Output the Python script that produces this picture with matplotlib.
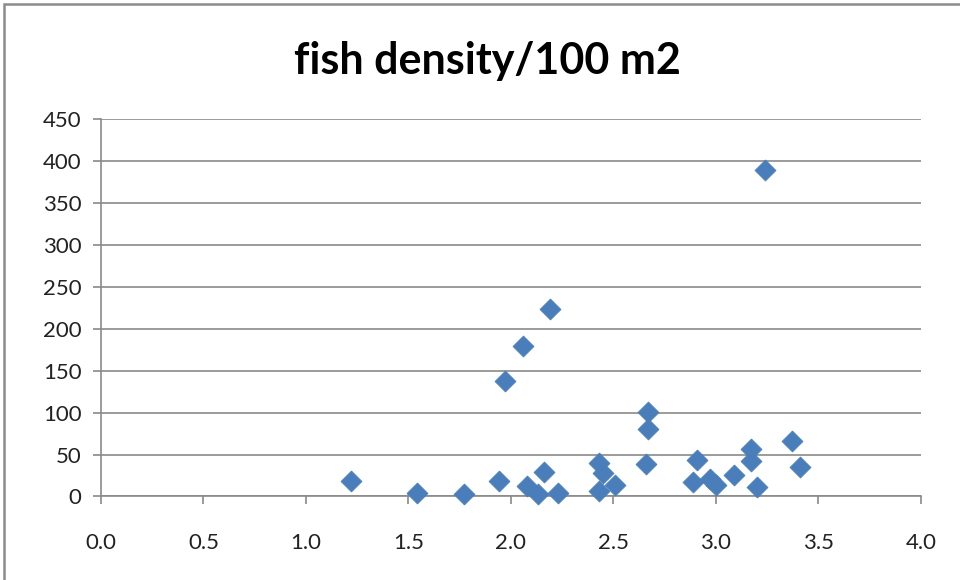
import matplotlib.pyplot as plt
from matplotlib.patches import Rectangle

# sampled sites: x value vs fish density per 100 m2
x_vals = [1.22, 1.54, 1.77, 1.94, 1.97, 2.06, 2.08, 2.13, 2.16, 2.19, 2.23,
          2.43, 2.43, 2.45, 2.51, 2.66, 2.67, 2.67, 2.89, 2.91, 2.97, 3.00,
          3.09, 3.17, 3.17, 3.20, 3.24, 3.37, 3.41]
density = [19, 4, 3, 18, 138, 179, 13, 3, 29, 224, 4,
           6, 40, 28, 14, 39, 101, 80, 17, 43, 21, 14,
           26, 56, 42, 11, 389, 66, 35]

x_ticks = [0.0, 0.5, 1.0, 1.5, 2.0, 2.5, 3.0, 3.5, 4.0]
y_ticks = [0, 50, 100, 150, 200, 250, 300, 350, 400, 450]

plt.rcParams['font.family'] = ['Lato', 'DejaVu Sans']

fig = plt.figure(figsize=(9.6, 5.8), dpi=100)
ax = fig.add_axes([0.1052, 0.144, 0.854, 0.651])

# chart-area frame (right/bottom edges fall outside the canvas)
fig.patches.append(Rectangle((4 / 960, -0.1), 1.2, 1 - 4 / 580 + 0.1,
                             transform=fig.transFigure, fill=False,
                             edgecolor='#8c8c8c', linewidth=1.8))

ax.scatter(x_vals, density, marker='D', s=115, color='#4a7ebb',
           edgecolors='#4a7ebb', linewidths=0.5, zorder=3, clip_on=False)

ax.set_xlim(0, 4)
ax.set_ylim(0, 450)
ax.set_xticks(x_ticks)
ax.set_xticklabels([f"{t:.1f}" for t in x_ticks])
ax.set_yticks(y_ticks)
ax.set_yticklabels([str(t) for t in y_ticks])

ax.grid(axis='y', color='#8a8a8a', linewidth=1.2)
ax.set_axisbelow(True)
for side in ['top', 'right']:
    ax.spines[side].set_visible(False)
for side in ['left', 'bottom']:
    ax.spines[side].set_color('#8a8a8a')
    ax.spines[side].set_linewidth(1.2)

ax.tick_params(axis='both', colors='#8a8a8a', width=1.2, length=6,
               labelsize=16, labelcolor='#222222')
ax.tick_params(axis='x', pad=20)
ax.tick_params(axis='y', pad=8)

fig.text(0.508, 0.895, "fish density/100 m2", ha='center', va='center',
         fontsize=31, fontweight='bold', color='black')

fig.savefig('out.png', dpi=100, facecolor='white')
